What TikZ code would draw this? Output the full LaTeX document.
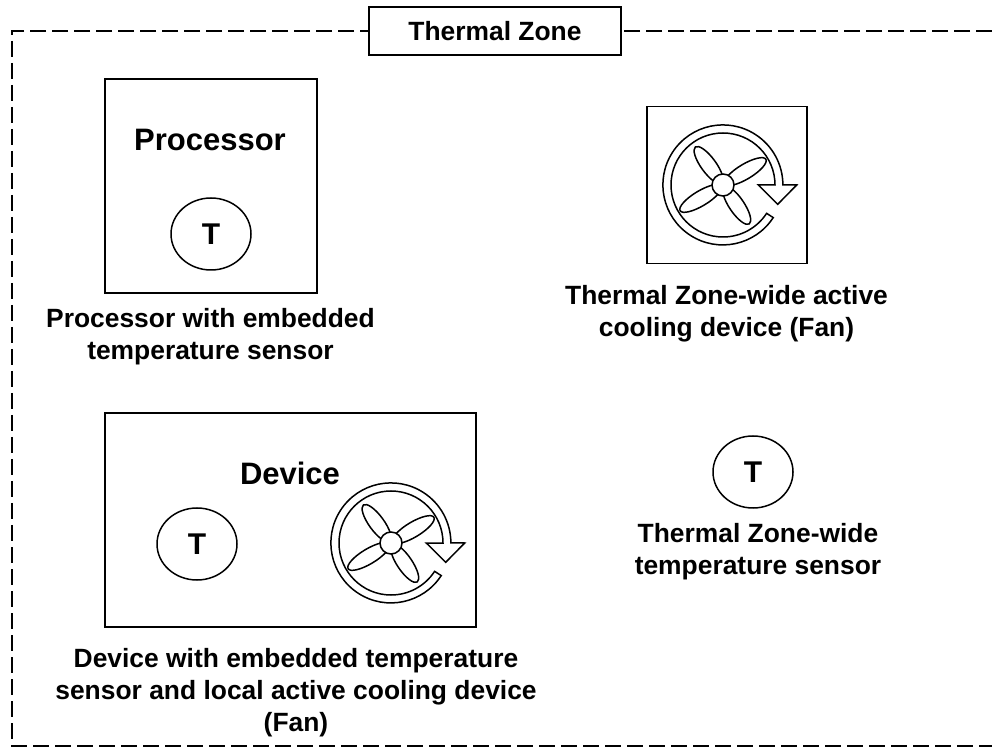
\documentclass[tikz,border=0pt]{standalone}
\usepackage{fontspec}
\setmainfont{Liberation Sans}
\usetikzlibrary{shapes.geometric}
\tikzset{
  unitbox/.style={draw, line width=1.6pt, inner sep=0pt},
  sensor/.style={draw, ellipse, line width=1.5pt, minimum width=80pt, minimum height=72pt, inner sep=0pt, font=\fontsize{30}{30}\bfseries\selectfont},
  title/.style={font=\fontsize{31}{31}\bfseries\selectfont},
  caption/.style={align=center, font=\fontsize{26.4}{32}\bfseries\selectfont},
  zonetag/.style={draw, fill=white, line width=1.5pt, minimum width=252pt, minimum height=48pt, inner sep=0pt, font=\fontsize{26.4}{26.4}\bfseries\selectfont},
  fan/.pic={
    \foreach \ang/\mid/\len in {31/26/24,126/24.5/22.5,211/26/24,304/24.5/22.5}
      \draw[rotate=\ang] (\mid pt,0) ellipse [x radius=\len pt, y radius=7.5pt];
    \draw[fill=white] (0,0) circle [radius=11pt];
    \draw (50.2pt,-32.6pt) arc [start angle=-33, end angle=-360, radius=60pt]
      -- (73.7pt,0) -- (54.7pt,-19.3pt) -- (35.3pt,0) -- (52pt,0)
      arc [start angle=0, end angle=327, radius=52pt] -- cycle;
  },
}
\begin{document}
\begin{tikzpicture}[x=1pt, y=1pt, line width=1.5pt]
  \useasboundingbox (0,0) rectangle (992,747);
  \draw[dash pattern=on 16pt off 6pt, line width=1.5pt] (992,716) -- (12,716) -- (12,1) -- (992,1);
  \node[zonetag] (zone) at (495,716) {Thermal Zone};
  % processor
  \node[unitbox, minimum width=212pt, minimum height=214pt] (proc) at (211,561) {};
  \node[title] (procname) at (210,607) {Processor};
  \node[sensor] (procT) at (211,513) {T};
  \node[caption] (proccap) at (210.5,410) {Processor with embedded\\temperature sensor};
  % zone fan
  \node[unitbox, minimum width=160pt, minimum height=157pt] (fanbox) at (727,562) {};
  \pic at (723,562) {fan};
  \node[caption] (fancap) at (726.5,433.7) {Thermal Zone-wide active\\cooling device (Fan)};
  % device
  \node[unitbox, minimum width=371pt, minimum height=214pt] (dev) at (290.5,227) {};
  \node[title] (devname) at (290,273.5) {Device};
  \node[sensor] (devT) at (197,203) {T};
  \pic at (391,204) {fan};
  \node[caption] (devcap) at (296,54) {Device with embedded temperature\\sensor and local active cooling device\\(Fan)};
  % zone sensor
  \node[sensor] (zoneT) at (753,275) {T};
  \node[caption] (sensecap) at (758,195.5) {Thermal Zone-wide\\temperature sensor};
\end{tikzpicture}
\end{document}
